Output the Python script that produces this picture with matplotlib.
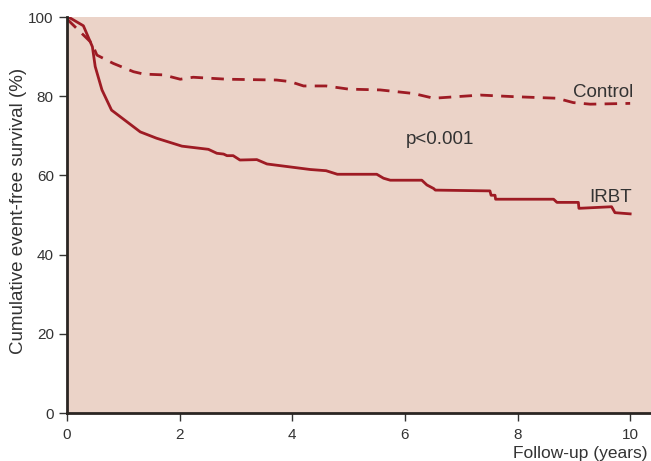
import matplotlib
matplotlib.use("Agg")
import matplotlib.pyplot as plt

# IRBT (solid)
irbt_t = [0.0, 0.05, 0.29, 0.45, 0.50, 0.62, 0.79, 1.30, 1.59, 2.04, 2.51, 2.66, 2.78, 2.84,
          2.95, 3.07, 3.37, 3.55, 4.32, 4.60, 4.80, 5.50, 5.62, 5.74, 6.30, 6.39, 6.51, 6.54,
          7.51, 7.53, 7.60, 7.61, 8.64, 8.70, 9.08, 9.09, 9.67, 9.73, 10.0]
irbt_s = [100, 99.8, 97.8, 92.5, 87.5, 81.6, 76.5, 71.0, 69.4, 67.4, 66.6, 65.6, 65.4, 65.0,
          65.0, 63.9, 64.0, 62.9, 61.5, 61.2, 60.3, 60.3, 59.3, 58.8, 58.8, 57.6, 56.7, 56.3,
          56.1, 55.0, 55.0, 54.0, 54.0, 53.2, 53.2, 51.7, 52.1, 50.6, 50.3]

# Control (dashed)
ctrl_t = [0.0, 0.05, 0.44, 0.53, 0.82, 1.18, 1.36, 1.71, 2.01, 2.24, 2.84, 3.72, 3.96, 4.20,
          4.60, 5.00, 5.56, 6.15, 6.51, 7.34, 7.93, 8.70, 8.99, 9.29, 10.0]
ctrl_s = [99.5, 98.8, 93.4, 90.4, 88.3, 86.2, 85.6, 85.4, 84.3, 84.8, 84.3, 84.1, 83.7, 82.6,
          82.6, 81.8, 81.6, 80.7, 79.5, 80.3, 79.9, 79.5, 78.4, 78.0, 78.2]

red = "#9e1b24"
txt = "#333333"
sans = ["Liberation Sans", "DejaVu Sans"]

fig = plt.figure(figsize=(6.51, 4.61), dpi=100)
ax = fig.add_axes([0.103, 0.104, 0.897, 0.859])
ax.set_facecolor("#ebd3c8")

ax.plot(irbt_t, irbt_s, color=red, lw=2)
ax.plot(ctrl_t, ctrl_s, color=red, lw=2, ls=(0, (4.5, 3)))

ax.text(9.52, 81.0, "Control", fontsize=13.5, color=txt, ha="center", va="center", family=sans)
ax.text(9.66, 54.5, "IRBT", fontsize=13.5, color=txt, ha="center", va="center", family=sans)
ax.text(6.62, 69.0, "p<0.001", fontsize=13.5, color=txt, ha="center", va="center", family=sans)

ax.set_xlim(0, 10.37)
ax.set_ylim(0, 100)
ax.set_xticks([0, 2, 4, 6, 8, 10])
ax.set_yticks([0, 20, 40, 60, 80, 100])
for lab in ax.get_xticklabels() + ax.get_yticklabels():
    lab.set_family(sans)
    lab.set_fontsize(11)
    lab.set_color(txt)
ax.tick_params(direction="out", length=6, width=1, color=txt)
ax.tick_params(axis="x", pad=5)

for s in ["top", "right"]:
    ax.spines[s].set_visible(False)
for s in ["left", "bottom"]:
    ax.spines[s].set_linewidth(2)
    ax.spines[s].set_color("#2a2522")

fig.text(0.028, 0.542, "Cumulative event-free survival (%)", fontsize=13.5, color=txt,
         family=sans, rotation=90, ha="center", va="center")
fig.text(0.995, 0.0, "Follow-up (years)", fontsize=12.5, color=txt, ha="right", va="bottom",
         family=sans)

fig.savefig("out.png", dpi=100)
